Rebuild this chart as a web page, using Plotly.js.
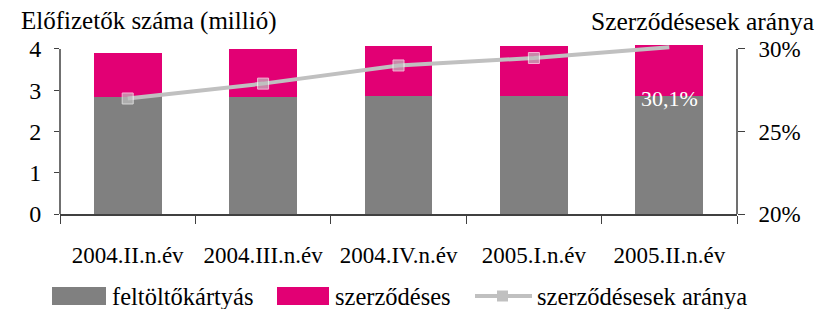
<!DOCTYPE html>
<html><head><meta charset="utf-8">
<script src="https://cdn.plot.ly/plotly-3.0.1.min.js"></script>
<style>html,body{margin:0;padding:0;background:#fff}#c{width:832px;height:309px}</style>
</head><body><div id="c"></div>
<script>
const categories = ["2004.II.n.év","2004.III.n.év","2004.IV.n.év","2005.I.n.év","2005.II.n.év"];
const feltoltokartyas = [2.84, 2.84, 2.86, 2.86, 2.86];
const szerzodeses = [1.07, 1.16, 1.20, 1.20, 1.24];
const szerzodesesArany = [27.0, 27.9, 29.0, 29.45, 30.1];
const seriesNames = ["feltöltőkártyás", "szerződéses", "szerződésesek aránya"];
const leftTicks = [0,1,2,3,4];
const leftTickText = ["0","1","2","3","4"];
const rightTicks = [20,25,30];
const rightTickText = ["20%","25%","30%"];
const leftTitle = "Előfizetők száma (millió)";
const rightTitle = "Szerződésesek aránya";

const F = "'Liberation Serif', 'Times New Roman', serif";
const GRAY = '#808080', MAG = '#e20074', SILVER = '#c0c0c0';
const TOP = 4.12;
const W = 832, H = 309, ML = 60, MR = 95, MT = 44, MB = 95;
const PW = W - ML - MR, PH = H - MT - MB;
const px = x => (x - ML) / PW;          // pixel -> paper x
const py = y => (H - MB - y) / PH;      // pixel -> paper y

const traces = [
  {type:'bar', name:seriesNames[0], x:categories, y:feltoltokartyas, marker:{color:GRAY}},
  {type:'bar', name:seriesNames[1], x:categories, y:szerzodeses, marker:{color:MAG}},
  {type:'scatter', mode:'lines+markers', name:seriesNames[2], x:categories, y:szerzodesesArany, yaxis:'y2',
   line:{color:SILVER, width:4}, marker:{symbol:'square', size:[11,11,11,11,0], color:SILVER}}
];
const last = categories.length-1;
const legY = 296;
const layout = {
  width:W, height:H,
  margin:{l:ML, r:MR, t:MT, b:MB, autoexpand:false},
  barmode:'stack', bargap:0.5,
  paper_bgcolor:'#fff', plot_bgcolor:'#fff',
  font:{family:F, size:23, color:'#000'},
  showlegend:false,
  xaxis:{type:'category', showline:true, linecolor:'#404040', linewidth:1.5, ticks:'outside', tickson:'boundaries',
         ticklen:8, tickcolor:'#404040', showgrid:false, zeroline:false, ticklabelstandoff:20,
         tickfont:{size:23, family:F, color:'#000'}},
  yaxis:{range:[0,TOP], tickmode:'array', tickvals:leftTicks, ticktext:leftTickText, ticks:'outside', ticklen:5,
         tickcolor:'#404040', showline:false, showgrid:false, zeroline:false, ticklabelstandoff:8,
         tickfont:{size:24, family:F, color:'#000'}},
  yaxis2:{overlaying:'y', side:'right', range:[20, 20+TOP*2.5], tickmode:'array', tickvals:rightTicks, ticktext:rightTickText,
          ticks:'outside', ticklen:7, tickcolor:'#404040', showline:false, showgrid:false, zeroline:false, ticklabelstandoff:9,
          tickfont:{size:23, family:F, color:'#000'}},
  shapes:[
    {type:'line', xref:'paper', yref:'y', x0:0, x1:0, y0:0, y1:4, line:{color:'#404040', width:1.5}},
    {type:'line', xref:'paper', yref:'y2', x0:1, x1:1, y0:20, y1:30, line:{color:'#404040', width:1.5}},
    {type:'rect', xref:'paper', yref:'paper', x0:px(52), x1:px(106), y0:py(305), y1:py(287), fillcolor:GRAY, line:{width:0}},
    {type:'rect', xref:'paper', yref:'paper', x0:px(277), x1:px(329), y0:py(305), y1:py(287), fillcolor:MAG, line:{width:0}},
    {type:'line', xref:'paper', yref:'paper', x0:px(475), x1:px(532), y0:py(legY), y1:py(legY), line:{color:SILVER, width:4}},
    {type:'rect', xref:'paper', yref:'paper', x0:px(497), x1:px(508), y0:py(legY+5.5), y1:py(legY-5.5), fillcolor:SILVER, line:{width:0}}
  ],
  annotations:[
    {xref:'paper', yref:'paper', x:px(19), y:py(21), xanchor:'left', yanchor:'middle', text:leftTitle, showarrow:false, font:{size:25, family:F}},
    {xref:'paper', yref:'paper', x:px(816), y:py(21), xanchor:'right', yanchor:'middle', text:rightTitle, showarrow:false, font:{size:25.5, family:F}},
    {xref:'paper', yref:'paper', x:px(459), y:py(-15), xanchor:'center', yanchor:'middle', text:'g', showarrow:false, font:{size:28, family:F, color:MAG}},
    {xref:'x', yref:'y', x:categories[last], y:2.8, text:szerzodesesArany[last].toFixed(1).replace('.',',')+'%', showarrow:false,
     xanchor:'center', yanchor:'middle', font:{size:22, family:F, color:'#fff'}},
    {xref:'paper', yref:'paper', x:px(110), y:py(legY), xanchor:'left', yanchor:'middle', text:seriesNames[0], showarrow:false, font:{size:24.5, family:F}},
    {xref:'paper', yref:'paper', x:px(333), y:py(legY), xanchor:'left', yanchor:'middle', text:seriesNames[1], showarrow:false, font:{size:24.5, family:F}},
    {xref:'paper', yref:'paper', x:px(535), y:py(legY), xanchor:'left', yanchor:'middle', text:seriesNames[2], showarrow:false, font:{size:24.5, family:F}}
  ]
};
Plotly.newPlot('c', traces, layout, {displayModeBar:false, staticPlot:true});
</script></body></html>
